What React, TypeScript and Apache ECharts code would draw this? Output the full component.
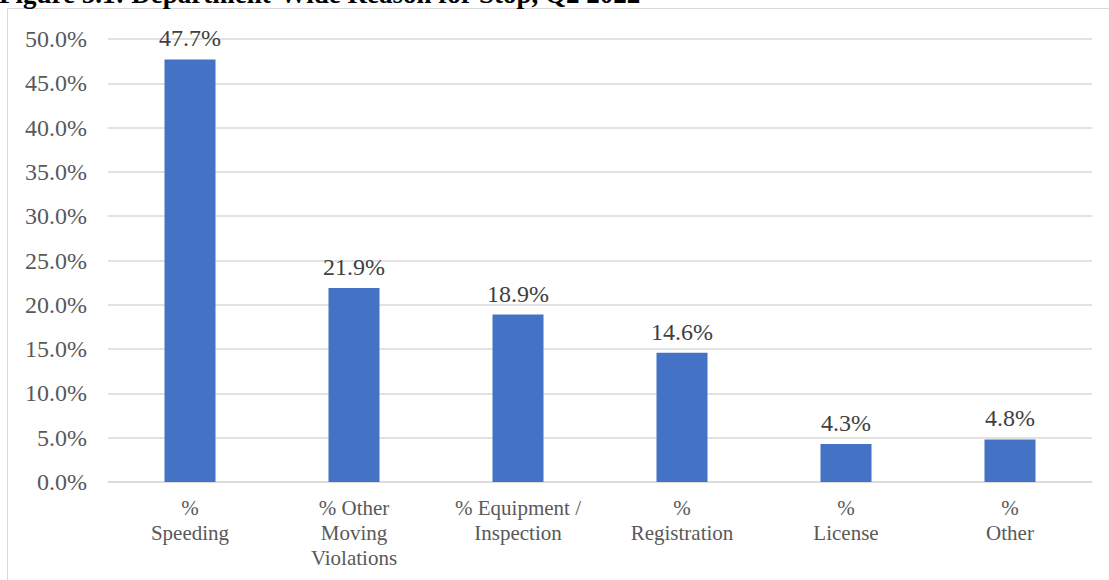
import React, { useEffect, useRef } from "react";
import * as echarts from "echarts";

// Reason-for-stop shares, Q2 2022 (percent of all stops)
const categories: string[] = [
  "%\nSpeeding",
  "% Other\nMoving\nViolations",
  "% Equipment /\nInspection",
  "%\nRegistration",
  "%\nLicense",
  "%\nOther",
];
const shares: number[] = [47.7, 21.9, 18.9, 14.6, 4.3, 4.8];
const yTicks = { min: 0, max: 50, interval: 5 };
const titleText = "Figure 5.1: Department-Wide Reason for Stop, Q2 2022";

const SERIF = "'Times New Roman', 'Liberation Serif', 'DejaVu Serif', serif";

export default function App() {
  const ref = useRef<HTMLDivElement>(null);

  useEffect(() => {
    if (!ref.current) return;
    const chart = echarts.init(ref.current, undefined, { renderer: "svg" });
    chart.setOption({
      animation: false,
      backgroundColor: "#ffffff",
      graphic: [
        {
          type: "rect",
          silent: true,
          z: -1,
          shape: { x: 7.5, y: 8.5, width: 1200, height: 700 },
          style: { fill: "none", stroke: "#d9d9d9", lineWidth: 1 },
        },
        {
          type: "text",
          x: -1,
          y: -6,
          style: {
            text: titleText,
            font: `bold 27px ${SERIF}`,
            fill: "#000000",
            verticalAlign: "middle",
            align: "left",
          },
        },
      ],
      grid: { left: 108, right: 17, top: 39, bottom: 98, containLabel: false },
      xAxis: {
        type: "category",
        data: categories,
        axisLine: { show: true, lineStyle: { color: "#d9d9d9", width: 1.5 } },
        axisTick: { show: false },
        axisLabel: {
          color: "#595959",
          fontFamily: SERIF,
          fontSize: 21,
          lineHeight: 25,
          margin: 13,
          interval: 0,
        },
      },
      yAxis: {
        type: "value",
        min: yTicks.min,
        max: yTicks.max,
        interval: yTicks.interval,
        axisLine: { show: false },
        axisTick: { show: false },
        splitLine: { lineStyle: { color: "#d9d9d9", width: 1.5 } },
        axisLabel: {
          color: "#595959",
          fontFamily: SERIF,
          fontSize: 24,
          margin: 21,
          formatter: (v: number) => v.toFixed(1) + "%",
        },
      },
      series: [
        {
          type: "bar",
          data: shares,
          barWidth: 51,
          itemStyle: { color: "#4472C4" },
          label: {
            show: true,
            position: "top",
            distance: 9,
            color: "#404040",
            fontFamily: SERIF,
            fontSize: 24,
            formatter: (p: any) => Number(p.value).toFixed(1) + "%",
          },
        },
      ],
    });
    return () => chart.dispose();
  }, []);

  return (
    <div
      ref={ref}
      style={{ position: "absolute", left: 0, top: 0, width: 1109, height: 580 }}
    />
  );
}
